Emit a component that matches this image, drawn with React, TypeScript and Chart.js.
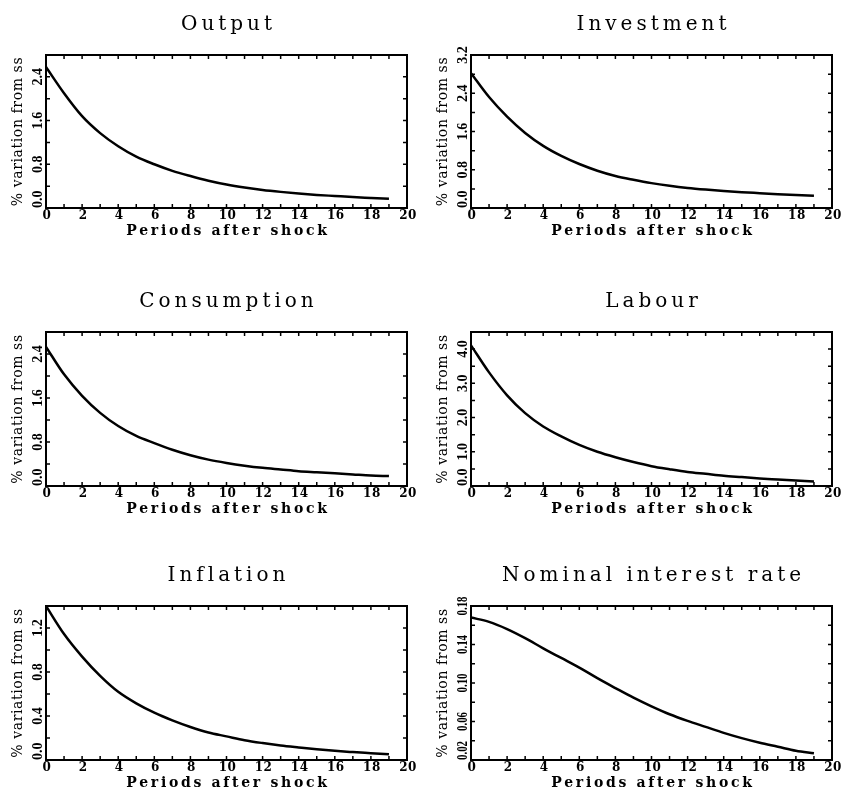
import React, { useEffect, useRef } from "react";
import { Chart, registerables } from "chart.js";

Chart.register(...registerables);

// ---------- data ----------
const periods = [0, 1, 2, 3, 4, 5, 6, 7, 8, 9, 10, 11, 12, 13, 14, 15, 16, 17, 18, 19];

const outputValues = [2.58, 2.1, 1.68, 1.37, 1.13, 0.94, 0.8, 0.68, 0.585, 0.5, 0.43, 0.375, 0.33, 0.295, 0.265, 0.24, 0.22, 0.2, 0.185, 0.17];
const investmentValues = [2.82, 2.32, 1.91, 1.57, 1.3, 1.09, 0.92, 0.78, 0.67, 0.59, 0.52, 0.465, 0.42, 0.385, 0.355, 0.33, 0.31, 0.29, 0.27, 0.255];
const consumptionValues = [2.53, 2.03, 1.64, 1.33, 1.09, 0.91, 0.78, 0.66, 0.56, 0.48, 0.42, 0.37, 0.33, 0.3, 0.27, 0.25, 0.23, 0.21, 0.19, 0.18];
const labourValues = [4.11, 3.32, 2.65, 2.13, 1.74, 1.45, 1.2, 1.0, 0.84, 0.7, 0.58, 0.49, 0.41, 0.355, 0.3, 0.26, 0.22, 0.19, 0.16, 0.13];
const inflationValues = [1.4, 1.145, 0.94, 0.765, 0.62, 0.515, 0.43, 0.36, 0.3, 0.25, 0.215, 0.18, 0.154, 0.132, 0.114, 0.097, 0.083, 0.072, 0.062, 0.052];
const interestValues = [0.168, 0.1635, 0.156, 0.1466, 0.136, 0.126, 0.116, 0.105, 0.0947, 0.0847, 0.0757, 0.0675, 0.0606, 0.0544, 0.0482, 0.0427, 0.0379, 0.0338, 0.0296, 0.0269];

const xTickLabels = ["0", "2", "4", "6", "8", "10", "12", "14", "16", "18", "20"];
const xMinorStep = 1;

const outputYLabels = ["0.0", "0.8", "1.6", "2.4"];
const investmentYLabels = ["0.0", "0.8", "1.6", "2.4", "3.2"];
const consumptionYLabels = ["0.0", "0.8", "1.6", "2.4"];
const labourYLabels = ["0.0", "1.0", "2.0", "3.0", "4.0"];
const inflationYLabels = ["0.0", "0.4", "0.8", "1.2"];
const interestYLabels = ["0.02", "0.06", "0.10", "0.14", "0.18"];

const titles = ["Output", "Investment", "Consumption", "Labour", "Inflation", "Nominal interest rate"];
const xTitle = "Periods after shock";
const yTitle = "% variation from ss";

// ---------- layout ----------
type PanelDef = {
  title: string;
  values: number[];
  yLabels: string[];
  yMin: number;
  yMax: number;
  yMinor: number;
  left: number;
  top: number;
  width: number;
  height: number;
  padding: { left: number; right: number; top: number; bottom: number };
};

const colLeft = [0, 422];
const colWidth = [422, 423];
const colPad = [
  { left: 46, right: 15 },
  { left: 49, right: 13 },
];
const rowTop = [0, 262, 530];
const rowHeight = [262, 268, 263];
const rowPad = [
  { top: 55, bottom: 54 },
  { top: 70, bottom: 44 },
  { top: 76, bottom: 33 },
];

function mk(i: number, values: number[], yLabels: string[], yMin: number, yMax: number, yMinor: number): PanelDef {
  const c = i % 2;
  const r = Math.floor(i / 2);
  return {
    title: titles[i],
    values,
    yLabels,
    yMin,
    yMax,
    yMinor,
    left: colLeft[c],
    top: rowTop[r],
    width: colWidth[c],
    height: rowHeight[r],
    padding: { ...colPad[c], ...rowPad[r] },
  };
}

const panels: PanelDef[] = [
  mk(0, outputValues, outputYLabels, 0, 2.8, 0.4),
  mk(1, investmentValues, investmentYLabels, 0, 3.2, 0.4),
  mk(2, consumptionValues, consumptionYLabels, 0, 2.8, 0.4),
  mk(3, labourValues, labourYLabels, 0, 4.5, 0.5),
  mk(4, inflationValues, inflationYLabels, 0, 1.4, 0.2),
  mk(5, interestValues, interestYLabels, 0.02, 0.18, 0.02),
];

// ---------- frame plugin (IDL-style box, inward ticks, texts) ----------
const framePlugin = {
  id: "idlFrame",
  afterDraw(chart: any, _args: any, opts: any) {
    const ctx: CanvasRenderingContext2D = chart.ctx;
    const a = chart.chartArea;
    const xs = chart.scales.x;
    const ys = chart.scales.y;
    ctx.save();
    ctx.strokeStyle = "#000";
    ctx.fillStyle = "#000";

    // tick marks on all four sides
    ctx.lineWidth = 1.5;
    const tl = 4;
    ctx.beginPath();
    const nx = Math.round((xs.max - xs.min) / xMinorStep);
    for (let i = 0; i <= nx; i++) {
      const px = xs.getPixelForValue(xs.min + i * xMinorStep);
      ctx.moveTo(px, a.bottom);
      ctx.lineTo(px, a.bottom - tl);
      ctx.moveTo(px, a.top);
      ctx.lineTo(px, a.top + tl);
    }
    const ny = Math.round((ys.max - ys.min) / opts.yMinor);
    for (let i = 0; i <= ny; i++) {
      const py = ys.getPixelForValue(ys.min + i * opts.yMinor);
      ctx.moveTo(a.left, py);
      ctx.lineTo(a.left + tl, py);
      ctx.moveTo(a.right, py);
      ctx.lineTo(a.right - tl, py);
    }
    ctx.stroke();

    // box
    ctx.lineWidth = 2;
    ctx.strokeRect(a.left, a.top, a.right - a.left, a.bottom - a.top);

    // x tick labels
    (ctx as any).letterSpacing = "0.5px";
    ctx.font = 'bold 12px "DejaVu Serif"';
    ctx.textAlign = "center";
    ctx.textBaseline = "middle";
    for (const lab of xTickLabels) {
      ctx.fillText(lab, xs.getPixelForValue(Number(lab)) + 1, a.bottom + 8);
    }

    // x title
    (ctx as any).letterSpacing = "2.7px";
    ctx.font = 'bold 14px "DejaVu Serif"';
    ctx.fillText(xTitle, (a.left + a.right) / 2 + 1.5, a.bottom + 23);

    // y tick labels (rotated, reading bottom to top; long ones condensed)
    (ctx as any).letterSpacing = "0px";
    ctx.font = 'bold 14px "Liberation Serif"';
    opts.yLabels.forEach((lab: string, idx: number) => {
      const v = Number(lab);
      const py = ys.getPixelForValue(v);
      ctx.save();
      ctx.translate(a.left - 8, idx === 0 ? a.bottom : py);
      ctx.rotate(-Math.PI / 2);
      ctx.textAlign = idx === 0 ? "left" : "center";
      ctx.textBaseline = "middle";
      ctx.fillText(lab, 0, 0, 19);
      ctx.restore();
    });

    // y title
    ctx.save();
    ctx.translate(a.left - 28, (a.top + a.bottom) / 2);
    ctx.rotate(-Math.PI / 2);
    ctx.font = '14px "DejaVu Serif"';
    (ctx as any).letterSpacing = "0.6px";
    ctx.textAlign = "center";
    ctx.textBaseline = "middle";
    ctx.fillText(yTitle, 0, 0);
    ctx.restore();

    // panel title
    (ctx as any).letterSpacing = "4px";
    ctx.font = '20px "DejaVu Serif"';
    ctx.textAlign = "center";
    ctx.textBaseline = "middle";
    ctx.fillText(opts.title, (a.left + a.right) / 2 + 2, a.top - 30);

    ctx.restore();
  },
};

function Panel({ p }: { p: PanelDef }) {
  const ref = useRef<HTMLCanvasElement | null>(null);
  useEffect(() => {
    if (!ref.current) return;
    const chart = new Chart(ref.current, {
      type: "line",
      data: {
        datasets: [
          {
            data: periods.map((x, i) => ({ x, y: p.values[i] })),
            borderColor: "#000",
            borderWidth: 2.5,
            pointRadius: 0,
            cubicInterpolationMode: "monotone",
            fill: false,
          },
        ],
      },
      options: {
        responsive: false,
        animation: false,
        devicePixelRatio: 1,
        layout: { padding: p.padding },
        plugins: {
          legend: { display: false },
          tooltip: { enabled: false },
          title: { display: false },
          idlFrame: { yLabels: p.yLabels, yMinor: p.yMinor, title: p.title },
        } as any,
        scales: {
          x: { type: "linear", min: 0, max: 20, display: false },
          y: { type: "linear", min: p.yMin, max: p.yMax, display: false },
        },
      },
      plugins: [framePlugin as any],
    });
    return () => chart.destroy();
  }, [p]);
  return (
    <canvas
      ref={ref}
      width={p.width}
      height={p.height}
      style={{ position: "absolute", left: p.left, top: p.top, width: p.width, height: p.height }}
    />
  );
}

export default function App() {
  return (
    <div style={{ position: "absolute", left: 0, top: 0, width: 845, height: 793, background: "#fff" }}>
      {panels.map((p, i) => (
        <Panel key={i} p={p} />
      ))}
    </div>
  );
}
